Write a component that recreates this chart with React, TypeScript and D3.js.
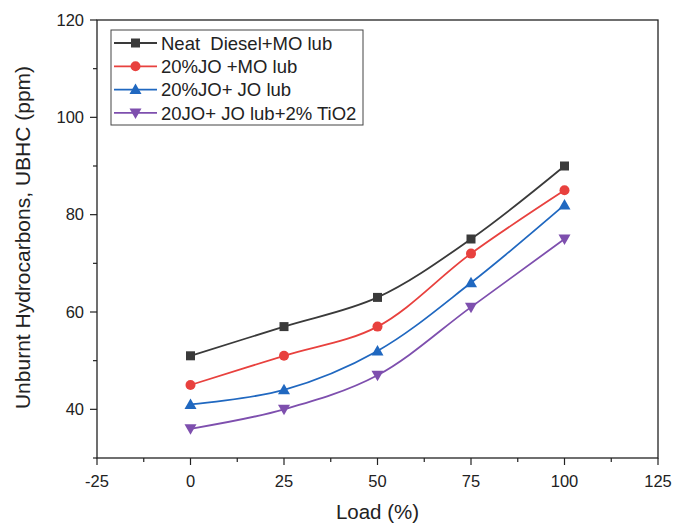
import React, { useEffect, useRef } from "react";
import * as d3 from "d3";

const loads = [0, 25, 50, 75, 100];
const seriesNames = [
  "Neat  Diesel+MO lub",
  "20%JO +MO lub",
  "20%JO+ JO lub",
  "20JO+ JO lub+2% TiO2",
];
const neatDiesel = [51, 57, 63, 75, 90];
const jo20MO = [45, 51, 57, 72, 85];
const jo20JO = [41, 44, 52, 66, 82];
const jo20TiO2 = [36, 40, 47, 61, 75];
const xTicks = [-25, 0, 25, 50, 75, 100, 125];
const yTicks = [40, 60, 80, 100, 120];

const colors = ["#3a3a3a", "#e8413e", "#2068c0", "#7e4fae"];
const markers = ["square", "circle", "triangleUp", "triangleDown"];

export default function App() {
  const ref = useRef<SVGSVGElement>(null);
  useEffect(() => {
    const svg = d3.select(ref.current);
    svg.selectAll("*").remove();
    const W = 682, H = 524;
    const L = 97, R = 658, T = 20, B = 458;
    const x = d3.scaleLinear().domain([-25, 125]).range([L, R]);
    const y = d3.scaleLinear().domain([30, 120]).range([B, T]);
    const font = "Arial, 'Liberation Sans', Helvetica, sans-serif";

    svg.append("rect").attr("width", W).attr("height", H).attr("fill", "#fff");

    // frame
    svg.append("rect").attr("x", L).attr("y", T).attr("width", R - L).attr("height", B - T)
      .attr("fill", "none").attr("stroke", "#222").attr("stroke-width", 1.3);

    // x axis ticks
    const gx = svg.append("g");
    d3.range(-25, 125.1, 12.5).forEach((v) => {
      const major = v % 25 === 0;
      gx.append("line").attr("x1", x(v)).attr("x2", x(v)).attr("y1", B).attr("y2", B + (major ? 7 : 4))
        .attr("stroke", "#222").attr("stroke-width", 1.2);
    });
    xTicks.forEach((v) => {
      gx.append("text").attr("x", x(v)).attr("y", B + 29).attr("text-anchor", "middle")
        .attr("font-family", font).attr("font-size", 16.5).attr("fill", "#222").text(String(v));
    });
    // y axis ticks
    d3.range(30, 120.1, 10).forEach((v) => {
      const major = v % 20 === 0;
      svg.append("line").attr("x1", L - (major ? 7 : 4)).attr("x2", L).attr("y1", y(v)).attr("y2", y(v))
        .attr("stroke", "#222").attr("stroke-width", 1.2);
    });
    yTicks.forEach((v) => {
      svg.append("text").attr("x", L - 13).attr("y", y(v)).attr("dy", "0.35em").attr("text-anchor", "end")
        .attr("font-family", font).attr("font-size", 16.5).attr("fill", "#222").text(String(v));
    });

    svg.append("text").attr("x", x(50)).attr("y", 519).attr("text-anchor", "middle")
      .attr("font-family", font).attr("font-size", 20.5).attr("fill", "#222").text("Load (%)");
    svg.append("text").attr("transform", `translate(30,237.5) rotate(-90)`).attr("text-anchor", "middle")
      .attr("font-family", font).attr("font-size", 21).attr("fill", "#222").text("Unburnt Hydrocarbons, UBHC (ppm)");

    const all = [neatDiesel, jo20MO, jo20JO, jo20TiO2];
    const line = d3.line<number>().x((_, i) => x(loads[i])).y((d) => y(d)).curve(d3.curveCatmullRom.alpha(0.5));

    const drawMarker = (g: any, kind: string, cx: number, cy: number, color: string) => {
      if (kind === "square") {
        g.append("rect").attr("x", cx - 4.5).attr("y", cy - 4.5).attr("width", 9).attr("height", 9).attr("fill", color);
      } else if (kind === "circle") {
        g.append("circle").attr("cx", cx).attr("cy", cy).attr("r", 5).attr("fill", color);
      } else if (kind === "triangleUp") {
        g.append("path").attr("d", `M${cx},${cy - 6}L${cx + 6},${cy + 4.5}L${cx - 6},${cy + 4.5}Z`).attr("fill", color);
      } else {
        g.append("path").attr("d", `M${cx},${cy + 6}L${cx + 6},${cy - 4.5}L${cx - 6},${cy - 4.5}Z`).attr("fill", color);
      }
    };

    all.forEach((vals, si) => {
      const g = svg.append("g");
      g.append("path").attr("d", line(vals)).attr("fill", "none").attr("stroke", colors[si]).attr("stroke-width", 1.8);
      vals.forEach((v, i) => drawMarker(g, markers[si], x(loads[i]), y(v), colors[si]));
    });

    // legend
    const lg = svg.append("g");
    lg.append("rect").attr("x", 111).attr("y", 30).attr("width", 252).attr("height", 95)
      .attr("fill", "#fff").attr("stroke", "#444").attr("stroke-width", 1);
    seriesNames.forEach((name, i) => {
      const cy = 43 + i * 23.3;
      lg.append("line").attr("x1", 114).attr("x2", 157).attr("y1", cy).attr("y2", cy)
        .attr("stroke", colors[i]).attr("stroke-width", 1.8);
      drawMarker(lg, markers[i], 135.5, cy, colors[i]);
      lg.append("text").attr("x", 161).attr("y", cy).attr("dy", "0.36em")
        .style("white-space", "pre")
        .attr("font-family", font).attr("font-size", 18.5).attr("fill", "#222").text(name);
    });
  }, []);
  return (
    <svg ref={ref} width={682} height={524} style={{ position: "absolute", left: 0, top: 0, display: "block" }} />
  );
}
